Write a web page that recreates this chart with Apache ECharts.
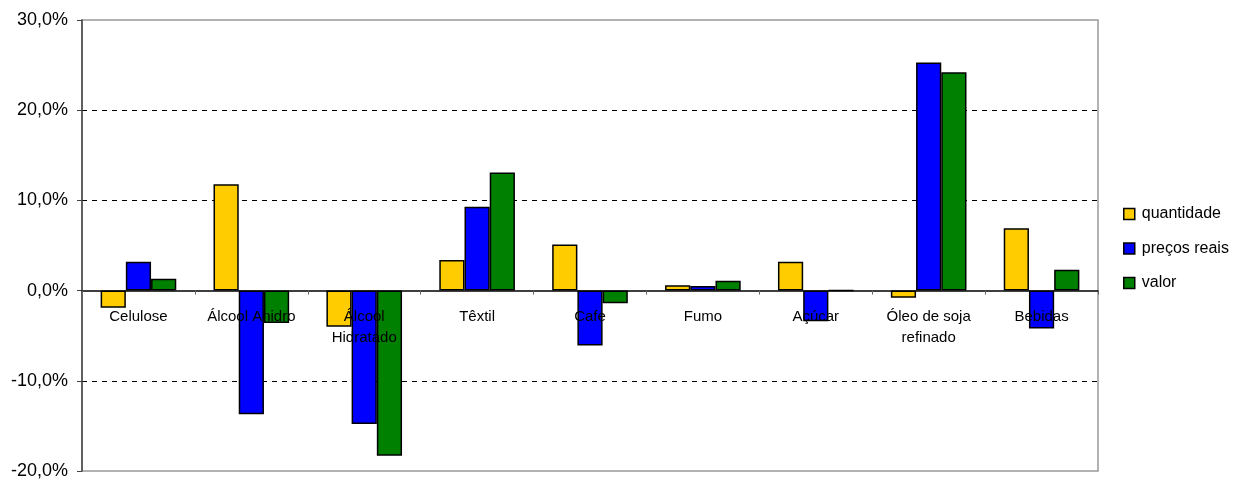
<!DOCTYPE html>
<html><head><meta charset="utf-8">
<script src="https://cdn.jsdelivr.net/npm/echarts@6/dist/echarts.min.js"></script>
<style>html,body{margin:0;padding:0;background:#fff}#c{width:1247px;height:479px}</style>
</head><body><div id="c"></div>
<script>
const categories = ['Celulose','Álcool Anidro','Álcool\nHidratado','Têxtil','Cafe','Fumo','Açúcar','Óleo de soja\nrefinado','Bebidas'];
const quantidade = [-1.9, 11.8, -4.0, 3.4, 5.1, 0.6, 3.2, -0.8, 6.9];
const precosReais = [3.2, -13.7, -14.8, 9.3, -6.1, 0.5, -3.4, 25.3, -4.2];
const valor = [1.3, -3.6, -18.3, 13.1, -1.4, 1.1, 0, 24.2, 2.3];
const yTicks = [-20, -10, 0, 10, 20, 30];

const font = 'Liberation Sans, Arial, sans-serif';
const chart = echarts.init(document.getElementById('c'));
function bar(name, data, color){
  return {name, type:'bar', data, barGap:'0%', barCategoryGap:'33%',
    itemStyle:{color, borderColor:'#000', borderWidth:1.5}};
}
chart.setOption({
  animation:false,
  grid:{left:82,right:149,top:20,bottom:8,show:true,borderColor:'#999',borderWidth:1.5,
    containLabel:false,outerBoundsMode:'none'},
  legend:{orient:'vertical',left:1118,top:201,itemGap:18.5,itemWidth:11,itemHeight:11,icon:'rect',
    itemStyle:{borderColor:'#000',borderWidth:1.5},
    textStyle:{fontFamily:font,fontSize:16,color:'#000',padding:[0,0,0,2]},
    data:['quantidade','preços reais','valor']},
  xAxis:{type:'category',data:categories,z:5,
    axisLine:{onZero:true,lineStyle:{color:'#000',width:1.5}},
    axisTick:{show:true,length:4,lineStyle:{color:'#666'}},
    axisLabel:{interval:0,margin:-165,fontFamily:font,fontSize:15,color:'#000',lineHeight:21}},
  yAxis:{type:'value',min:yTicks[0],max:yTicks[yTicks.length-1],interval:10,
    axisLine:{show:true,lineStyle:{color:'#444',width:1.5}},
    axisTick:{show:true,length:5,lineStyle:{color:'#444'}},
    axisLabel:{fontFamily:font,fontSize:18,color:'#000',margin:14,
      formatter:v=>v.toFixed(1).replace('.',',')+'%'},
    splitLine:{show:true,lineStyle:{type:[5,5],width:1,
      color:['rgba(0,0,0,0)','#000','rgba(0,0,0,0)','#000','#000','rgba(0,0,0,0)']}}},
  series:[bar('quantidade',quantidade,'#ffcc00'),bar('preços reais',precosReais,'#0000ff'),bar('valor',valor,'#008000')]
});
</script></body></html>
